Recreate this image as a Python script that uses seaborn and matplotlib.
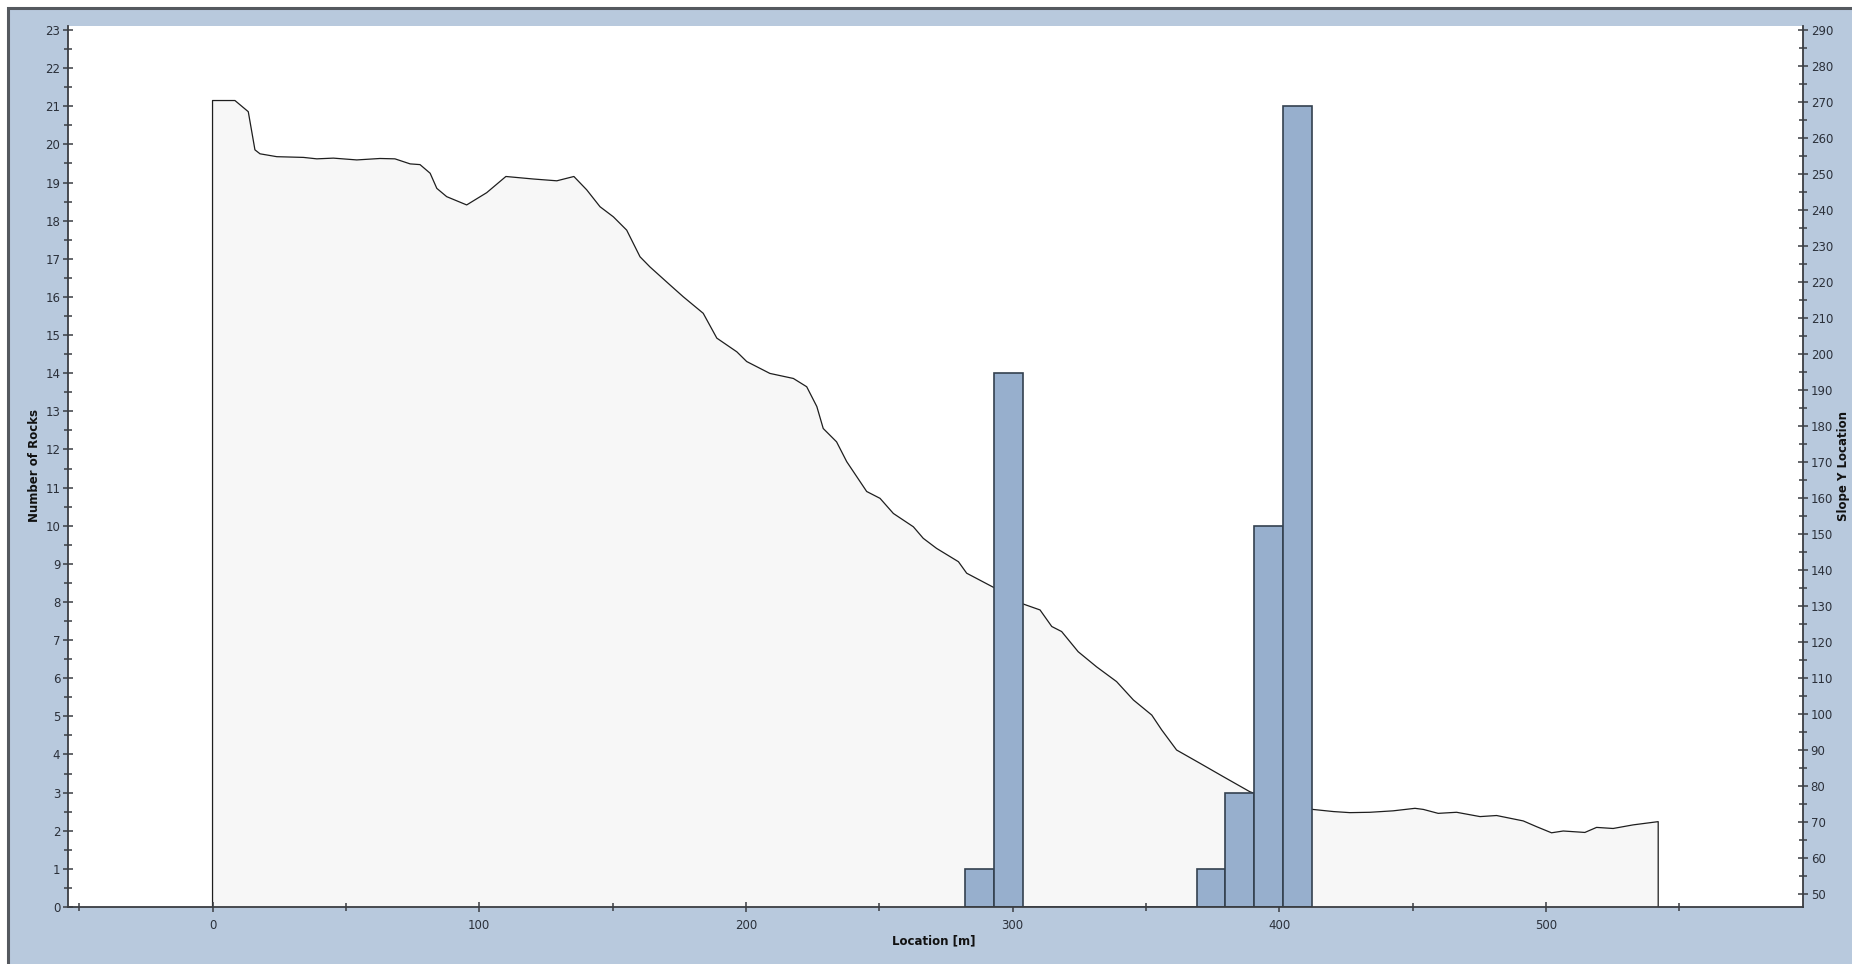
import numpy as np
import pandas as pd
import matplotlib.pyplot as plt
from matplotlib.patches import Rectangle
from matplotlib.ticker import MultipleLocator
import seaborn as sns

# slope profile (location [m], slope Y location)
profile_x = [0, 8.4, 13.4, 15.9, 17.8, 24.1, 34.1, 39.1, 45.3, 54.1, 62.8, 68.4,
             74.1, 77.8, 81.6, 84.1, 87.8, 95.3, 102.8, 110.0, 120.3, 129.1,
             135.5, 140.3, 145.3, 150.3, 155.3, 160.3, 164.0, 171.5, 176.5,
             184.0, 189.1, 196.6, 200.3, 209.0, 217.8, 222.8, 226.6, 229.0,
             234.0, 237.8, 245.3, 250.3, 255.3, 262.8, 266.5, 271.5, 279.7,
             282.8, 292.8, 298.0, 303.8, 310.3, 314.7, 318.4, 324.6, 331.5,
             339.0, 345.3, 352.2, 355.9, 361.5, 370.3, 379.0, 389.0, 396.0,
             404.0, 412.5, 420.3, 426.5, 434.0, 442.7, 450.9, 454.0, 459.6,
             466.5, 475.3, 481.5, 491.5, 496.5, 502.1, 506.5, 514.6, 519.0,
             525.2, 532.7, 542.1]
profile_y = [270.4, 270.4, 267.3, 256.7, 255.6, 254.8, 254.6, 254.2, 254.4, 253.9,
             254.3, 254.2, 252.8, 252.6, 250.2, 246.0, 243.7, 241.4, 244.8,
             249.3, 248.6, 248.1, 249.3, 245.6, 240.9, 238.1, 234.4, 227.0,
             224.2, 219.2, 215.9, 211.3, 204.4, 200.6, 197.9, 194.6, 193.2,
             190.9, 185.4, 179.3, 175.6, 170.1, 161.8, 159.9, 155.7, 152.0,
             148.8, 146.0, 142.3, 139.1, 135.2, 133.0, 130.6, 128.9, 124.3,
             122.9, 117.3, 113.1, 109.0, 103.9, 99.7, 95.6, 90.0, 86.3, 82.6,
             78.4, 76.5, 75.0, 73.5, 72.9, 72.6, 72.7, 73.1, 73.8, 73.5, 72.4,
             72.7, 71.5, 71.8, 70.3, 68.7, 67.0, 67.5, 67.1, 68.5, 68.2, 69.2,
             70.1]

# rock counts per bin
bin_edges = [282.3, 293.1, 304.0, 314.8, 325.7, 336.5, 347.3, 358.2, 369.0,
             379.8, 390.7, 401.5, 412.4]
bin_counts = [1, 14, 0, 0, 0, 0, 0, 0, 1, 3, 10, 21]

BG = "#b8c9dd"
BAR = "#97afcd"
BAR_EDGE = "#34414f"
FILL = "#f7f7f7"
TXT = "#2b303a"
AX = "#3a3d42"

sns.set_theme(style="white")
plt.rcParams["font.family"] = ["DejaVu Sans"]

W, H = 1852, 964
fig = plt.figure(figsize=(W / 100, H / 100), dpi=100)
fig.patch.set_facecolor("white")
fig.add_artist(Rectangle((8 / W, -0.02), 1.05, 1 - 8 / H + 0.02,
                         transform=fig.transFigure, facecolor=BG,
                         edgecolor="#55595f", lw=2.2, zorder=0))

pos = [68 / W, 1 - 907 / H, (1803 - 68) / W, (907 - 26) / H]
ax = fig.add_axes(pos)
ax2 = ax.twinx()

r_min, r_max = 46.39, 291.1

# profile on right axis, drawn behind the bars
prof = pd.DataFrame({"x": profile_x, "y": profile_y})
ax2.fill_between(prof["x"], prof["y"], r_min, color=FILL, lw=0)
outline = pd.DataFrame({
    "x": [profile_x[0]] + profile_x + [profile_x[-1]],
    "y": [r_min] + profile_y + [r_min],
})
sns.lineplot(data=outline, x="x", y="y", sort=False, estimator=None,
             color="#1e1e1e", lw=0.9, ax=ax2)
ax2.set_ylim(r_min, r_max)
ax2.set_yticks(np.arange(50, 291, 10))
ax2.yaxis.set_minor_locator(MultipleLocator(5))

# histogram of rocks on left axis
centers = [(a + b) / 2 for a, b in zip(bin_edges[:-1], bin_edges[1:])]
sns.histplot(x=centers, weights=bin_counts, bins=bin_edges, ax=ax,
             color=BAR, edgecolor=BAR_EDGE, linewidth=1.2, alpha=1)
ax.set_xlim(-54.2, 596.4)
ax.set_ylim(0, 23.105)
ax.set_yticks(range(0, 24))
ax.yaxis.set_minor_locator(MultipleLocator(0.5))
ax.set_xticks(range(0, 501, 100))
ax.set_xticks(range(-50, 551, 100), minor=True)

ax.set_zorder(ax2.get_zorder() + 1)
ax.patch.set_visible(False)
ax2.patch.set_visible(True)
ax2.patch.set_facecolor("white")

for s in ["top", "right"]:
    ax.spines[s].set_visible(False)
for s in ["top", "left", "bottom"]:
    ax2.spines[s].set_visible(False)
for a, names in [(ax, ["left", "bottom"]), (ax2, ["right"])]:
    for s in names:
        a.spines[s].set_color(AX)
        a.spines[s].set_linewidth(1.3)

ax.tick_params(axis="both", which="both", direction="inout", color=AX,
               labelcolor=TXT, labelsize=8.5, width=1.1, left=True, bottom=True)
ax.tick_params(axis="both", which="major", length=7, pad=2)
ax.tick_params(axis="both", which="minor", length=6)
ax.tick_params(axis="x", which="major", pad=5)
ax2.tick_params(axis="y", which="both", direction="inout", color=AX,
                labelcolor=TXT, labelsize=8.5, width=1.1, right=True)
ax2.tick_params(axis="y", which="major", length=7, pad=2)
ax2.tick_params(axis="y", which="minor", length=6)

lab = dict(fontsize=8.5, fontweight="bold", color="#111111")
ax.set_xlabel("Location [m]", **lab)
ax.set_ylabel("Number of Rocks", **lab)
ax2.set_ylabel("Slope Y Location", **lab)
ax.xaxis.set_label_coords(934 / W, 1 - 934 / H, transform=fig.transFigure)
ax.yaxis.set_label_coords(41 / W, 1 - 466 / H, transform=fig.transFigure)
ax2.yaxis.set_label_coords(1837 / W, 1 - 466 / H, transform=fig.transFigure)

fig.savefig("out.png", dpi=100, facecolor=fig.get_facecolor())
